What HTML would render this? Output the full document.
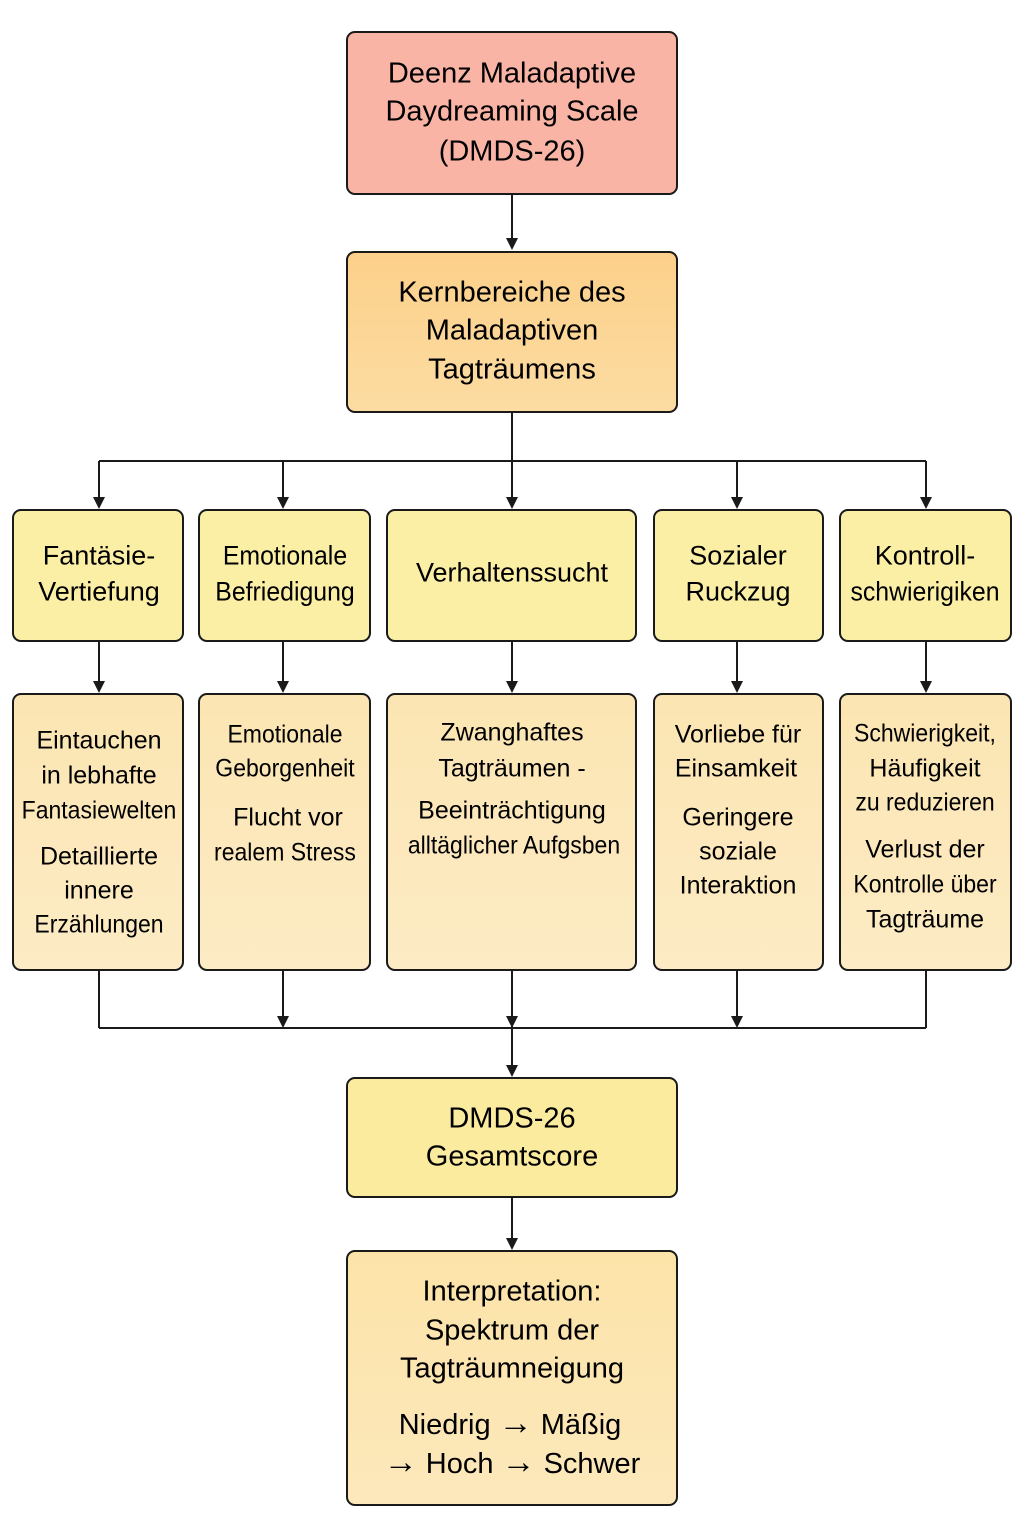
<!DOCTYPE html>
<html><head><meta charset="utf-8"><style>
body{margin:0;width:1024px;height:1536px;background:#fff;position:relative;overflow:hidden;font-family:"Liberation Sans","DejaVu Sans",sans-serif;color:#000}
.b{position:absolute;border:2.5px solid #1a1a1a;border-radius:9px;box-sizing:border-box}
.t{position:absolute;white-space:nowrap;transform:translate(-50%,-50%);line-height:1}
.c{transform:translate(-50%,-50%) scaleX(0.92)}
.a{font-size:34px}
svg{position:absolute;left:0;top:0}
</style></head><body>
<svg width="1024" height="1536" stroke="#1a1a1a" stroke-width="2" fill="#1a1a1a">
<line x1="512" y1="194" x2="512" y2="244"/><polygon points="506,238 518,238 512,250" stroke="none"/>
<line x1="512" y1="412" x2="512" y2="502"/>
<line x1="99" y1="461" x2="926" y2="461"/>
<g stroke="none">
<polygon points="93,497 105,497 99,509"/><polygon points="277,497 289,497 283,509"/><polygon points="506,497 518,497 512,509"/><polygon points="731,497 743,497 737,509"/><polygon points="920,497 932,497 926,509"/>
</g>
<line x1="99" y1="461" x2="99" y2="500"/><line x1="283" y1="461" x2="283" y2="500"/><line x1="737" y1="461" x2="737" y2="500"/><line x1="926" y1="461" x2="926" y2="500"/>
<line x1="99" y1="641" x2="99" y2="685"/><line x1="283" y1="641" x2="283" y2="685"/><line x1="512" y1="641" x2="512" y2="685"/><line x1="737" y1="641" x2="737" y2="685"/><line x1="926" y1="641" x2="926" y2="685"/>
<g stroke="none">
<polygon points="93,681 105,681 99,693"/><polygon points="277,681 289,681 283,693"/><polygon points="506,681 518,681 512,693"/><polygon points="731,681 743,681 737,693"/><polygon points="920,681 932,681 926,693"/>
</g>
<line x1="99" y1="970" x2="99" y2="1028"/><line x1="926" y1="970" x2="926" y2="1028"/>
<line x1="99" y1="1028" x2="926" y2="1028"/>
<line x1="283" y1="970" x2="283" y2="1020"/><line x1="512" y1="970" x2="512" y2="1070"/><line x1="737" y1="970" x2="737" y2="1020"/>
<g stroke="none">
<polygon points="277,1016 289,1016 283,1028"/><polygon points="506,1016 518,1016 512,1028"/><polygon points="731,1016 743,1016 737,1028"/><polygon points="506,1065 518,1065 512,1077"/><polygon points="506,1238 518,1238 512,1250"/>
</g>
<line x1="512" y1="1197" x2="512" y2="1244"/>
</svg>
<div class="b" style="left:346px;top:31px;width:332px;height:164px;background:#f9b4a6"></div>
<div class="b" style="left:346px;top:251px;width:332px;height:162px;background:linear-gradient(#fcd08a,#fcdca2)"></div>
<div class="b" style="left:12px;top:509px;width:172px;height:133px;background:#fbefa6"></div>
<div class="b" style="left:198px;top:509px;width:173px;height:133px;background:#fbefa6"></div>
<div class="b" style="left:386px;top:509px;width:251px;height:133px;background:#fbefa6"></div>
<div class="b" style="left:653px;top:509px;width:171px;height:133px;background:#fbefa6"></div>
<div class="b" style="left:839px;top:509px;width:173px;height:133px;background:#fbefa6"></div>
<div class="b" style="left:12px;top:693px;width:172px;height:278px;background:linear-gradient(#fbe5b2,#fcebc4)"></div>
<div class="b" style="left:198px;top:693px;width:173px;height:278px;background:linear-gradient(#fbe5b2,#fcebc4)"></div>
<div class="b" style="left:386px;top:693px;width:251px;height:278px;background:linear-gradient(#fbe5b2,#fcebc4)"></div>
<div class="b" style="left:653px;top:693px;width:171px;height:278px;background:linear-gradient(#fbe5b2,#fcebc4)"></div>
<div class="b" style="left:839px;top:693px;width:173px;height:278px;background:linear-gradient(#fbe5b2,#fcebc4)"></div>
<div class="b" style="left:346px;top:1077px;width:332px;height:121px;background:#fbeb9f"></div>
<div class="b" style="left:346px;top:1250px;width:332px;height:256px;background:linear-gradient(#fce3a8,#fce8bb)"></div>

<div style="font-size:29px">
<div class="t" style="left:512px;top:74px">Deenz Maladaptive</div>
<div class="t" style="left:512px;top:112px">Daydreaming Scale</div>
<div class="t" style="left:512px;top:152px">(DMDS-26)</div>
<div class="t" style="left:512px;top:293px">Kernbereiche des</div>
<div class="t" style="left:512px;top:331px">Maladaptiven</div>
<div class="t" style="left:512px;top:370px">Tagträumens</div>
<div class="t" style="left:512px;top:1119px">DMDS-26</div>
<div class="t" style="left:512px;top:1157px">Gesamtscore</div>
<div class="t" style="left:512px;top:1292px">Interpretation:</div>
<div class="t" style="left:512px;top:1331px">Spektrum der</div>
<div class="t" style="left:512px;top:1369px">Tagträumneigung</div>
<div class="t" style="left:510px;top:1423px">Niedrig <span class="a">→</span> Mäßig</div>
<div class="t" style="left:512px;top:1462px"><span class="a">→</span> Hoch <span class="a">→</span> Schwer</div>
</div>
<div style="font-size:27px">
<div class="t" style="left:99px;top:556px">Fantäsie-</div>
<div class="t" style="left:99px;top:592px">Vertiefung</div>
<div class="t c" style="left:285px;top:556px">Emotionale</div>
<div class="t c" style="left:285px;top:592px">Befriedigung</div>
<div class="t" style="left:512px;top:573px">Verhaltenssucht</div>
<div class="t" style="left:738px;top:556px">Sozialer</div>
<div class="t" style="left:738px;top:592px">Ruckzug</div>
<div class="t" style="left:925px;top:556px">Kontroll-</div>
<div class="t c" style="left:925px;top:592px">schwierigiken</div>
</div>
<div style="font-size:25px">
<div class="t" style="left:99px;top:741px">Eintauchen</div>
<div class="t" style="left:99px;top:776px">in lebhafte</div>
<div class="t c" style="left:99px;top:811px">Fantasiewelten</div>
<div class="t" style="left:99px;top:857px">Detaillierte</div>
<div class="t" style="left:99px;top:891px">innere</div>
<div class="t c" style="left:99px;top:925px">Erzählungen</div>
<div class="t c" style="left:285px;top:735px">Emotionale</div>
<div class="t c" style="left:285px;top:769px">Geborgenheit</div>
<div class="t" style="left:288px;top:818px">Flucht vor</div>
<div class="t c" style="left:285px;top:853px">realem Stress</div>
<div class="t" style="left:512px;top:733px">Zwanghaftes</div>
<div class="t" style="left:512px;top:769px">Tagträumen -</div>
<div class="t" style="left:512px;top:811px">Beeinträchtigung</div>
<div class="t c" style="left:514px;top:846px">alltäglicher Aufgsben</div>
<div class="t" style="left:738px;top:735px">Vorliebe für</div>
<div class="t" style="left:736px;top:769px">Einsamkeit</div>
<div class="t" style="left:738px;top:818px">Geringere</div>
<div class="t" style="left:738px;top:852px">soziale</div>
<div class="t" style="left:738px;top:886px">Interaktion</div>
<div class="t c" style="left:925px;top:734px">Schwierigkeit,</div>
<div class="t" style="left:925px;top:769px">Häufigkeit</div>
<div class="t c" style="left:925px;top:803px">zu reduzieren</div>
<div class="t" style="left:925px;top:850px">Verlust der</div>
<div class="t c" style="left:925px;top:885px">Kontrolle über</div>
<div class="t" style="left:925px;top:920px">Tagträume</div>
</div>
</body></html>
